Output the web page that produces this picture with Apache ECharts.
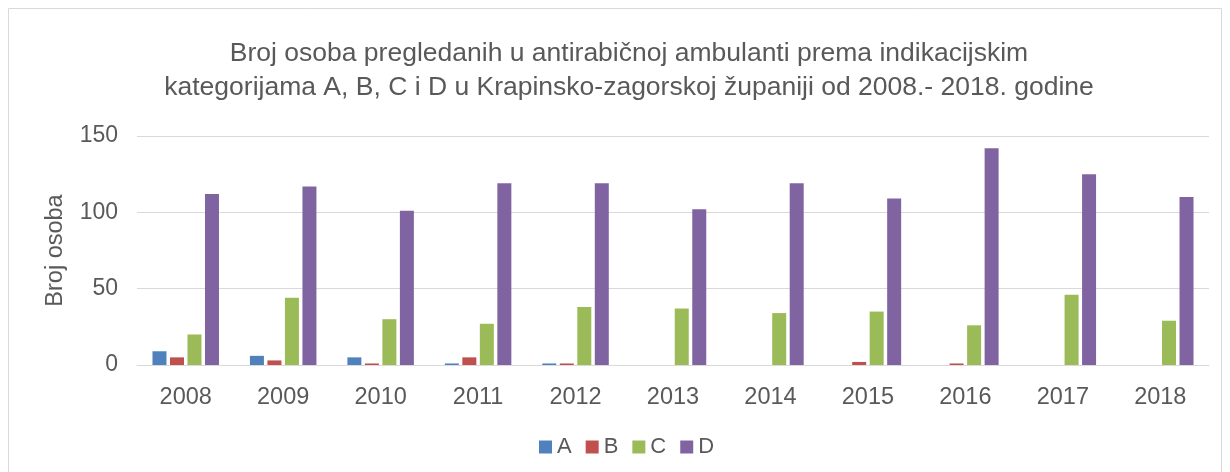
<!DOCTYPE html>
<html>
<head>
<meta charset="utf-8">
<script src="https://cdn.jsdelivr.net/npm/echarts@6/dist/echarts.min.js"></script>
<style>
html,body{margin:0;padding:0;background:#fff;}
#chart{width:1230px;height:472px;}
</style>
</head>
<body>
<div id="chart"></div>
<script>
const years = ['2008','2009','2010','2011','2012','2013','2014','2015','2016','2017','2018'];
const seriesNames = ['A','B','C','D'];
const valuesA = [9,6,5,1,1,0,0,0,0,0,0];
const valuesB = [5,3,1,5,1,0,0,2,1,0,0];
const valuesC = [20,44,30,27,38,37,34,35,26,46,29];
const valuesD = [112,117,101,119,119,102,119,109,142,125,110];
const titleText = 'Broj osoba pregledanih u antirabičnoj ambulanti prema indikacijskim\nkategorijama A, B, C i D u Krapinsko-zagorskoj županiji od 2008.- 2018. godine';
const yAxisName = 'Broj osoba';

const colors = ['#4F81BD','#C0504D','#9BBB59','#8064A2'];
const allValues = [valuesA, valuesB, valuesC, valuesD];
const font = '"Liberation Sans", Arial, sans-serif';
const textColor = '#595959';

const chart = echarts.init(document.getElementById('chart'));
chart.setOption({
  animation: false,
  color: colors,
  textStyle: { fontFamily: font },
  title: {
    text: titleText,
    left: 624,
    textAlign: 'center',
    top: 32,
    textStyle: { fontFamily: font, fontSize: 26.5, fontWeight: 'normal', color: textColor, lineHeight: 34 }
  },
  graphic: [{
    type: 'rect',
    shape: { x: 8.5, y: 8.5, width: 1213, height: 490 },
    style: { fill: 'none', stroke: '#D9D9D9', lineWidth: 1 },
    silent: true
  }],
  legend: {
    data: seriesNames,
    top: 431,
    left: 534,
    itemWidth: 13,
    itemHeight: 13,
    itemGap: 14,
    icon: 'rect',
    textStyle: { fontFamily: font, fontSize: 22, color: textColor }
  },
  grid: { left: 137, right: 21, top: 136, bottom: 107, containLabel: false },
  xAxis: {
    type: 'category',
    data: years,
    axisLine: { lineStyle: { color: '#D9D9D9', width: 1 } },
    axisTick: { show: false },
    axisLabel: { fontFamily: font, fontSize: 23.5, color: textColor, margin: 21 }
  },
  yAxis: {
    type: 'value',
    min: 0, max: 150, interval: 50,
    name: yAxisName,
    nameLocation: 'middle',
    nameGap: 69,
    nameRotate: 90,
    nameTextStyle: { fontFamily: font, fontSize: 23.5, color: textColor },
    axisLine: { show: false },
    axisTick: { show: false },
    axisLabel: { fontFamily: font, fontSize: 23, color: textColor, margin: 19 },
    splitLine: { lineStyle: { color: '#D9D9D9', width: 1 } }
  },
  series: seriesNames.map((n, i) => ({
    name: n,
    type: 'bar',
    data: allValues[i],
    barWidth: 14,
    barGap: '25%',
    itemStyle: { color: colors[i], borderWidth: 0 }
  }))
});
</script>
</body>
</html>
